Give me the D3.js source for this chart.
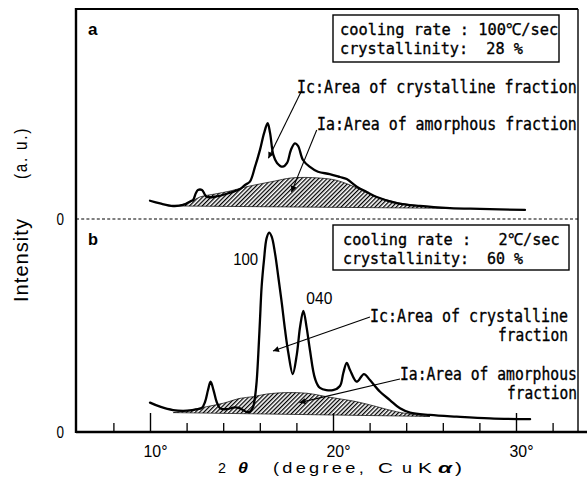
<!DOCTYPE html>
<html>
<head>
<meta charset="utf-8">
<script src="https://cdn.jsdelivr.net/npm/d3@7"></script>
<style>
  body { margin: 0; background: #fff; }
  svg { display: block; }
</style>
</head>
<body>
<svg id="chart" width="587" height="479"></svg>
<script>
// ---------- data: WAXD profiles, 2θ in degrees, intensity in arbitrary units ----------
// (a) quenched at 100 ℃/sec
const thetaA = [10.00, 10.55, 11.26, 11.81, 12.24, 12.35, 12.51, 12.62, 12.84, 13.01, 13.11, 13.55,
  14.37, 14.92, 15.19, 15.46, 15.74, 16.01, 16.23, 16.43, 16.56, 16.74, 16.94, 17.25, 17.49, 17.70,
  17.92, 18.09, 18.36, 18.72, 19.18, 19.82, 20.38, 20.75, 21.30, 21.84, 22.39, 23.48, 24.75, 26.39,
  28.03, 30.49];
const intensityA = [8.7, 7.4, 6.2, 6.7, 8.6, 9.0, 12.4, 13.8, 13.8, 11.4, 10.5, 10.6,
  12.5, 14.3, 16.2, 17.8, 24.9, 32.9, 40.8, 45.6, 41.0, 30.5, 26.7, 24.9, 26.7, 32.9,
  36.0, 34.8, 28.1, 24.9, 22.5, 21.4, 20.0, 19.0, 15.4, 12.9, 10.5, 7.6, 6.2, 5.2,
  4.8, 4.3];
// amorphous halo of (a) and its straight background line
const haloThetaA = [11.48, 12.19, 12.73, 13.55, 14.37, 15.19, 16.01, 16.83, 17.65, 18.47, 19.29,
  20.11, 20.93, 21.75, 22.57, 23.66, 24.75, 26.12];
const haloA = [6.2, 8.1, 10.5, 11.9, 13.3, 15.2, 16.7, 18.1, 19.5, 19.8, 19.5,
  18.6, 16.2, 12.9, 10.0, 7.6, 6.2, 5.1];
const baseThetaA = [11.48, 26.12];
const baseA = [6.2, 5.1];

// (b) slowly cooled at 2 ℃/sec
const thetaB = [10.00, 10.55, 11.26, 12.02, 12.50, 12.83, 13.01, 13.17, 13.31, 13.47, 13.64, 13.83,
  14.19, 14.64, 14.92, 15.28, 15.46, 15.64, 15.74, 15.83, 15.92, 16.01, 16.10, 16.23, 16.37, 16.51,
  16.65, 16.83, 17.01, 17.20, 17.38, 17.56, 17.80, 18.02, 18.20, 18.38, 18.56, 18.74, 19.02, 19.29,
  20.00, 20.38, 20.56, 20.75, 20.93, 21.30, 21.69, 22.02, 22.57, 23.11, 23.66, 24.21, 25.30, 26.76,
  28.58, 30.77];
const intensityB = [13.8, 11.9, 10.3, 10.0, 10.6, 11.3, 14.2, 19.7, 23.6, 19.7, 14.2, 11.1,
  10.7, 11.6, 11.1, 9.4, 9.5, 11.9, 16.6, 23.9, 36.9, 52.6, 68.2, 80.8, 90.9, 93.6,
  91.7, 84.0, 72.9, 60.6, 47.9, 37.1, 27.2, 36.2, 49.3, 56.9, 49.0, 38.5, 25.0, 20.7,
  19.7, 21.6, 27.6, 32.5, 29.1, 23.6, 27.2, 24.4, 18.9, 15.0, 11.1, 9.1, 8.0, 7.2,
  6.4, 6.0];
const haloThetaB = [11.27, 12.19, 13.10, 14.00, 14.92, 15.64, 16.37, 17.46, 18.56, 19.84, 21.30,
  22.39, 23.48, 24.57, 25.30];
const haloB = [9.1, 10.3, 11.9, 13.5, 15.8, 16.6, 17.8, 18.5, 18.2, 16.3, 14.2,
  11.9, 9.5, 8.0, 7.3];
const baseThetaB = [11.27, 25.30];
const baseB = [9.1, 7.3];

// reflection indices of (b)
const peakNames = ["100", "040"];
const peakTheta = [16.51, 18.38];
const peakValue = [93.6, 56.9];

// axis ticks
const majorTicks = [10, 20, 30];
const majorTickLabels = ["10°", "20°", "30°"];
const minorTicks = [8, 12, 14, 16, 18, 22, 24, 26, 28, 32];
const zeroLabel = "0";
const panelNames = ["a", "b"];

// text blocks
const infoA = ["cooling rate : 100℃/sec", "crystallinity:  28 %"];
const infoB = ["cooling rate :   2℃/sec", "crystallinity:  60 %"];
const notesA = ["Ic:Area of crystalline fraction", "Ia:Area of amorphous fraction"];
const notesB = ["Ic:Area of crystalline", "fraction", "Ia:Area of amorphous", "fraction"];
const yTitle = ["Intensity", "(a. u.)"];
const xTitleParts = ["2", "θ", "(degree,", "C", "u", "K", "α", ")"];

// arrow tails / heads in (2θ, intensity) of their panel
const arrowsA = [[18.25, 60.5, 16.47, 28.9], [19.11, 42.4, 17.73, 12.9]];
const arrowsB = [[22.02, 54.0, 16.72, 38.0], [23.66, 24.9, 18.17, 13.8]];

// ---------- layout ----------
const svg = d3.select("#chart");
const frameL = 76, frameR = 578, frameT = 9, axisY = 432, midY = 219;

const x = d3.scaleLinear().domain([10, 30]).range([150, 516]);
const yA = d3.scaleLinear().domain([0, 100]).range([midY, frameT]);
const yB = d3.scaleLinear().domain([0, 100]).range([axisY, midY]);

const mono = "'DejaVu Sans Mono', 'Liberation Mono', monospace";
const sans = "'Liberation Sans', Arial, sans-serif";

// place a text at (tx, ty) and squeeze/stretch it horizontally to the given width
function fitText(parent, str, tx, ty, width, opts) {
  const o = opts || {};
  const t = parent.append("text")
    .attr("x", 0).attr("y", 0)
    .attr("text-anchor", o.anchor || "start")
    .attr("font-family", o.family || sans)
    .attr("font-size", o.size || 16)
    .attr("fill", "#000")
    .style("white-space", "pre")
    .text(str);
  if (o.weight) t.attr("font-weight", o.weight);
  if (o.italic) t.attr("font-style", "italic");
  if (o.spacing) t.attr("letter-spacing", o.spacing);
  if (o.heavy) t.attr("stroke", "#000").attr("stroke-width", o.heavy);
  const w = t.node().getComputedTextLength();
  const sx = width && w > 0 ? width / w : 1;
  const rot = o.rotate ? ` rotate(${o.rotate})` : "";
  t.attr("transform", `translate(${tx},${ty})${rot} scale(${sx},1)`);
  return t;
}

// hatch for the amorphous area
const defs = svg.append("defs");
defs.append("pattern")
  .attr("id", "hatch")
  .attr("patternUnits", "userSpaceOnUse")
  .attr("width", 3).attr("height", 6)
  .attr("patternTransform", "rotate(45)")
  .append("line")
  .attr("x1", 0.6).attr("y1", -1).attr("x2", 0.6).attr("y2", 7)
  .attr("stroke", "#000").attr("stroke-width", 1.35);

defs.append("marker")
  .attr("id", "head")
  .attr("markerUnits", "userSpaceOnUse")
  .attr("viewBox", "0 0 10 10")
  .attr("refX", 10).attr("refY", 5)
  .attr("markerWidth", 10).attr("markerHeight", 6)
  .attr("orient", "auto")
  .append("path")
  .attr("d", "M0,0 L10,5 L0,10 Z")
  .attr("fill", "#000");

// ---------- frame ----------
const frame = svg.append("g").attr("stroke", "#000").attr("fill", "none");
frame.append("line").attr("x1", frameL).attr("x2", frameL).attr("y1", frameT - 1).attr("y2", axisY + 1).attr("stroke-width", 2.4);
frame.append("line").attr("x1", frameL).attr("x2", frameR).attr("y1", frameT).attr("y2", frameT).attr("stroke-width", 2);
frame.append("line").attr("x1", frameR).attr("x2", frameR).attr("y1", frameT).attr("y2", axisY).attr("stroke-width", 1.4);
frame.append("line").attr("x1", frameL).attr("x2", 587).attr("y1", axisY).attr("y2", axisY).attr("stroke-width", 2.6);
frame.append("line").attr("x1", frameL).attr("x2", frameR).attr("y1", midY).attr("y2", midY)
  .attr("stroke-width", 1.1).attr("stroke-dasharray", "3,2.2");

// ---------- x axis (ticks pointing inward) ----------
const majorAxis = d3.axisBottom(x).tickValues(majorTicks)
  .tickSizeInner(-19).tickSizeOuter(0).tickFormat("");
const gMajor = svg.append("g").attr("transform", `translate(0,${axisY})`).call(majorAxis);
gMajor.select(".domain").remove();
gMajor.selectAll(".tick line").attr("stroke", "#000").attr("stroke-width", 1.4);
gMajor.selectAll(".tick").each(function (d, i) {
  fitText(d3.select(this), majorTickLabels[i], 5, 24.5, 24, { anchor: "middle", size: 17 });
});

const minorAxis = d3.axisBottom(x).tickValues(minorTicks)
  .tickSizeInner(-9).tickSizeOuter(0).tickFormat("");
const gMinor = svg.append("g").attr("transform", `translate(0,${axisY})`).call(minorAxis);
gMinor.select(".domain").remove();
gMinor.selectAll(".tick line").attr("stroke", "#000").attr("stroke-width", 1.3);

// zero labels of both panels
[yA(0), yB(0)].forEach(yy => {
  fitText(svg, zeroLabel, 64, yy + 5.5, 7.5, { anchor: "end", size: 16 });
});

// axis titles
fitText(svg, yTitle[0], 28, 260, 84, { anchor: "middle", size: 20, rotate: -90, spacing: 1 });
fitText(svg, yTitle[1], 27, 153, 52, { anchor: "middle", size: 18, rotate: -90, spacing: 2 });

const xt = svg.append("g");
const xBase = 473;
fitText(xt, xTitleParts[0], 218, xBase, 8, { size: 14 });
fitText(xt, xTitleParts[1], 238, xBase, 10, { size: 14, italic: true, weight: "bold" });
fitText(xt, xTitleParts[2], 273, xBase, 94, { size: 14, spacing: 2.5 });
fitText(xt, xTitleParts[3], 378, xBase, 15, { size: 14 });
fitText(xt, xTitleParts[4], 402, xBase, 10, { size: 14 });
fitText(xt, xTitleParts[5], 418, xBase, 14, { size: 14 });
fitText(xt, xTitleParts[6], 438, xBase, 14, { size: 14, italic: true, weight: "bold" });
fitText(xt, xTitleParts[7], 455, xBase, 7, { size: 14 });

// ---------- profiles ----------
function drawPanel(theta, inten, hTheta, halo, bTheta, base, yS) {
  const g = svg.append("g");
  const haloPts = hTheta.map((t, i) => [t, halo[i]]);
  const haloLine = d3.line().x(d => x(d[0])).y(d => yS(d[1])).curve(d3.curveCatmullRom.alpha(0.5));
  const shape = haloLine(haloPts) +
    `L${x(bTheta[1])},${yS(base[1])}L${x(bTheta[0])},${yS(base[0])}Z`;
  g.append("path").attr("d", shape)
    .attr("fill", "url(#hatch)").attr("stroke", "#000").attr("stroke-width", 0.7);

  const pts = theta.map((t, i) => [t, inten[i]]);
  const line = d3.line().x(d => x(d[0])).y(d => yS(d[1])).curve(d3.curveCatmullRom.alpha(0.5));
  g.append("path").attr("d", line(pts))
    .attr("fill", "none").attr("stroke", "#000").attr("stroke-width", 2.3)
    .attr("stroke-linejoin", "round").attr("stroke-linecap", "round");
}
drawPanel(thetaA, intensityA, haloThetaA, haloA, baseThetaA, baseA, yA);
drawPanel(thetaB, intensityB, haloThetaB, haloB, baseThetaB, baseB, yB);

// arrows
function drawArrows(list, yS) {
  list.forEach(a => {
    svg.append("line")
      .attr("x1", x(a[0])).attr("y1", yS(a[1]))
      .attr("x2", x(a[2])).attr("y2", yS(a[3]))
      .attr("stroke", "#000").attr("stroke-width", 1.1)
      .attr("marker-end", "url(#head)");
  });
}
drawArrows(arrowsA, yA);
drawArrows(arrowsB, yB);

// panel letters
fitText(svg, panelNames[0], 88, 35, 9.5, { size: 16, weight: "bold" });
fitText(svg, panelNames[1], 88, 245, 10, { size: 16, weight: "bold" });

// reflection labels
fitText(svg, peakNames[0], x(peakTheta[0]) - 11, yB(peakValue[0]) + 32, 25, { anchor: "end", size: 17 });
fitText(svg, peakNames[1], x(peakTheta[1]) + 3, yB(peakValue[1]) - 7, 26, { size: 17 });

// condition boxes
const monoOpts = { family: mono, size: 17, heavy: 0.35 };
function infoBox(lines, bx, by, bw, bh, tx, ty, lens) {
  svg.append("rect").attr("x", bx).attr("y", by).attr("width", bw).attr("height", bh)
    .attr("fill", "#fff").attr("stroke", "#000").attr("stroke-width", 1.4);
  lines.forEach((s, i) => fitText(svg, s, tx, ty[i], lens[i], { ...monoOpts, size: 16.5 }));
}
infoBox(infoA, 333, 15, 226, 47, 340, [34.5, 53.5], [218, 183]);
infoBox(infoB, 333, 225, 236, 45, 343, [244.5, 263.5], [216, 180]);

// area annotations
fitText(svg, notesA[0], 297, 93, 280, monoOpts);
fitText(svg, notesA[1], 317, 130, 260, monoOpts);
fitText(svg, notesB[0], 370, 321.5, 198, monoOpts);
fitText(svg, notesB[1], 568, 340.5, 70, { ...monoOpts, anchor: "end" });
fitText(svg, notesB[2], 400, 380, 177, monoOpts);
fitText(svg, notesB[3], 577, 398.5, 70, { ...monoOpts, anchor: "end" });
</script>
</body>
</html>
